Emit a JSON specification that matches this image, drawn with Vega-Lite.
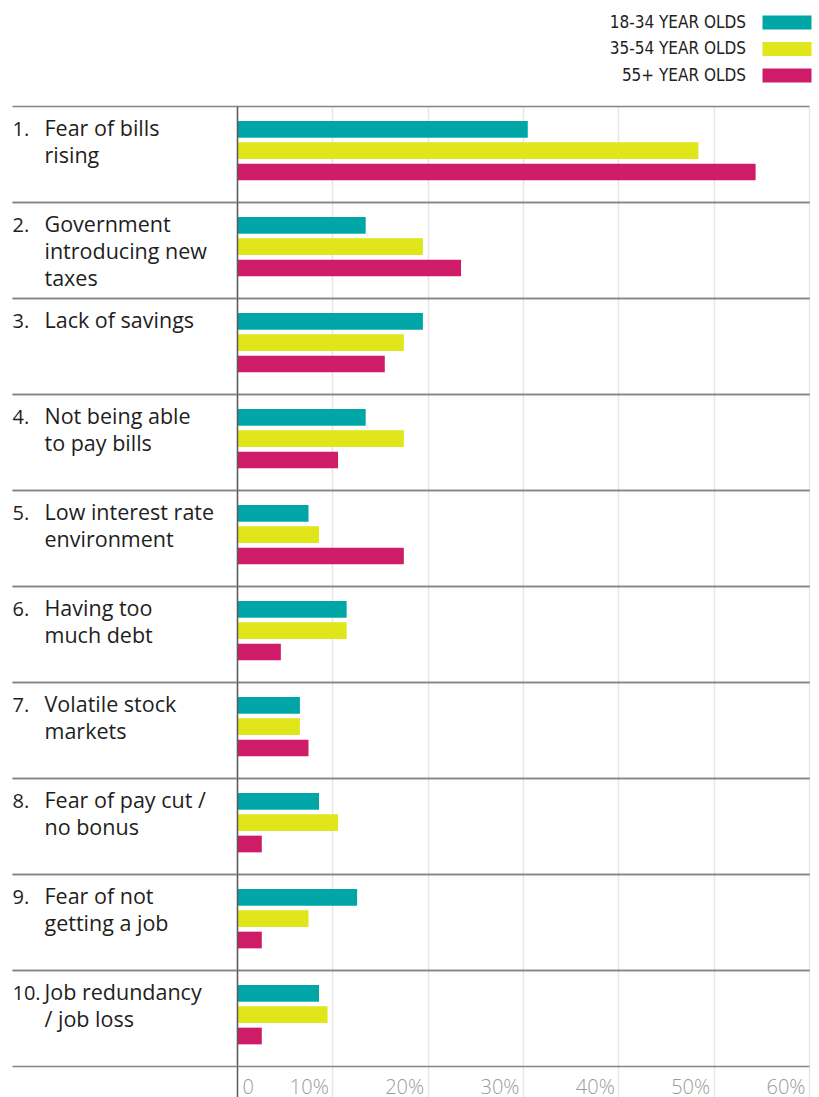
{
  "$schema": "https://vega.github.io/schema/vega-lite/v6.json",
  "width": 572,
  "height": 960,
  "autosize": {"type": "none"},
  "padding": {"left": 237, "top": 106, "right": 10, "bottom": 31},
  "background": "white",
  "config": {"view": {"stroke": null}, "font": "Open Sans"},
  "data": {"values": [
    {"item": "1.|Fear of bills|rising", "group": "18-34 YEAR OLDS", "value": 30.5},
    {"item": "1.|Fear of bills|rising", "group": "35-54 YEAR OLDS", "value": 48.4},
    {"item": "1.|Fear of bills|rising", "group": "55+ YEAR OLDS", "value": 54.4},
    {"item": "2.|Government|introducing new|taxes", "group": "18-34 YEAR OLDS", "value": 13.5},
    {"item": "2.|Government|introducing new|taxes", "group": "35-54 YEAR OLDS", "value": 19.5},
    {"item": "2.|Government|introducing new|taxes", "group": "55+ YEAR OLDS", "value": 23.5},
    {"item": "3.|Lack of savings", "group": "18-34 YEAR OLDS", "value": 19.5},
    {"item": "3.|Lack of savings", "group": "35-54 YEAR OLDS", "value": 17.5},
    {"item": "3.|Lack of savings", "group": "55+ YEAR OLDS", "value": 15.5},
    {"item": "4.|Not being able|to pay bills", "group": "18-34 YEAR OLDS", "value": 13.5},
    {"item": "4.|Not being able|to pay bills", "group": "35-54 YEAR OLDS", "value": 17.5},
    {"item": "4.|Not being able|to pay bills", "group": "55+ YEAR OLDS", "value": 10.6},
    {"item": "5.|Low interest rate|environment", "group": "18-34 YEAR OLDS", "value": 7.5},
    {"item": "5.|Low interest rate|environment", "group": "35-54 YEAR OLDS", "value": 8.6},
    {"item": "5.|Low interest rate|environment", "group": "55+ YEAR OLDS", "value": 17.5},
    {"item": "6.|Having too|much debt", "group": "18-34 YEAR OLDS", "value": 11.5},
    {"item": "6.|Having too|much debt", "group": "35-54 YEAR OLDS", "value": 11.5},
    {"item": "6.|Having too|much debt", "group": "55+ YEAR OLDS", "value": 4.6},
    {"item": "7.|Volatile stock|markets", "group": "18-34 YEAR OLDS", "value": 6.6},
    {"item": "7.|Volatile stock|markets", "group": "35-54 YEAR OLDS", "value": 6.6},
    {"item": "7.|Volatile stock|markets", "group": "55+ YEAR OLDS", "value": 7.5},
    {"item": "8.|Fear of pay cut /|no bonus", "group": "18-34 YEAR OLDS", "value": 8.6},
    {"item": "8.|Fear of pay cut /|no bonus", "group": "35-54 YEAR OLDS", "value": 10.6},
    {"item": "8.|Fear of pay cut /|no bonus", "group": "55+ YEAR OLDS", "value": 2.6},
    {"item": "9.|Fear of not|getting a job", "group": "18-34 YEAR OLDS", "value": 12.6},
    {"item": "9.|Fear of not|getting a job", "group": "35-54 YEAR OLDS", "value": 7.5},
    {"item": "9.|Fear of not|getting a job", "group": "55+ YEAR OLDS", "value": 2.6},
    {"item": "10.|Job redundancy|/ job loss", "group": "18-34 YEAR OLDS", "value": 8.6},
    {"item": "10.|Job redundancy|/ job loss", "group": "35-54 YEAR OLDS", "value": 9.5},
    {"item": "10.|Job redundancy|/ job loss", "group": "55+ YEAR OLDS", "value": 2.6}
  ]},
  "layer": [
    {
      "mark": {"type": "bar"},
      "encoding": {
        "y": {
          "field": "item", "type": "nominal", "sort": null,
          "scale": {"paddingInner": 0, "paddingOuter": 0},
          "axis": {
            "orient": "left", "title": null, "bandPosition": 0,
            "domain": true, "domainColor": "#5a5a5a", "domainWidth": 1.5,
            "ticks": true, "tickSize": 225, "tickColor": "#858585", "tickWidth": 1.5,
            "grid": true, "gridColor": "#858585", "gridWidth": 1.5,
            "labelExpr": "split(datum.value, '|')[0]",
            "labelAlign": "left", "labelBaseline": "alphabetic",
            "labelPadding": 0, "labelOffset": -18,
            "labelFont": "Open Sans", "labelFontSize": 20, "labelColor": "#1e1e1e",
            "labelLimit": 0, "labelOverlap": false, "zindex": 1
          }
        },
        "yOffset": {
          "field": "group", "type": "nominal", "sort": null,
          "scale": {"paddingInner": 0.216, "paddingOuter": 0.86, "align": 0.41}
        },
        "x": {
          "field": "value", "type": "quantitative", "stack": null,
          "scale": {"domain": [0, 60], "nice": false},
          "axis": {
            "title": null, "orient": "bottom", "values": [0, 10, 20, 30, 40, 50, 60],
            "domain": false, "grid": true, "gridColor": "#e6e6e6", "gridWidth": 1.5,
            "ticks": true, "tickSize": 31,
            "tickColor": {"condition": {"test": "datum.value == 0", "value": "#5a5a5a"}, "value": "#e6e6e6"},
            "tickWidth": 1.5,
            "labelExpr": "datum.value == 0 ? '0' : datum.value + '%'",
            "labelAlign": {"condition": {"test": "datum.value == 0", "value": "left"}, "value": "right"},
            "labelOffset": {"condition": {"test": "datum.value == 0", "value": 5}, "value": -4},
            "labelBaseline": "alphabetic", "labelPadding": -4,
            "labelFont": "Open Sans", "labelFontSize": 20, "labelFontWeight": 300, "labelColor": "#9a9a9a",
            "labelFlush": false, "labelOverlap": false, "labelBound": false, "zindex": 0
          }
        },
        "color": {
          "field": "group", "type": "nominal",
          "scale": {
            "domain": ["18-34 YEAR OLDS", "35-54 YEAR OLDS", "55+ YEAR OLDS"],
            "range": ["#00a6a6", "#e0e619", "#cf1c68"]
          },
          "legend": {
            "orient": "none", "legendX": 541.5, "legendY": -92, "title": null,
            "direction": "vertical", "padding": 0,
            "symbolType": "M-3.5,-1H3.5V1H-3.5Z", "symbolSize": 196,
            "symbolStrokeWidth": 0, "symbolOpacity": 1,
            "labelAlign": "right", "labelOffset": -49.5,
            "labelFont": "Liberation Sans Narrow, DejaVu Sans Condensed, sans-serif",
            "labelFontSize": 17, "labelColor": "#222222",
            "rowPadding": 8.5, "labelLimit": 0
          }
        }
      }
    },
    {
      "mark": {"type": "bar", "opacity": 0},
      "encoding": {
        "y": {
          "field": "item", "type": "nominal", "sort": null,
          "scale": {"paddingInner": 0, "paddingOuter": 0},
          "axis": {
            "orient": "left", "title": null, "bandPosition": 1,
            "domain": false,
            "ticks": true, "tickSize": 225, "tickColor": "#858585", "tickWidth": 1.5,
            "grid": true, "gridColor": "#858585", "gridWidth": 1.5,
            "labelExpr": "slice(split(datum.value, '|'), 1)",
            "labelAlign": "left", "labelBaseline": "alphabetic",
            "labelPadding": -32, "labelOffset": -18, "labelLineHeight": 27,
            "labelFont": "Open Sans", "labelFontSize": 21.5, "labelColor": "#1e1e1e",
            "labelLimit": 0, "labelOverlap": false, "zindex": 1
          }
        },
        "yOffset": {
          "field": "group", "type": "nominal", "sort": null,
          "scale": {"paddingInner": 0.216, "paddingOuter": 0.86, "align": 0.41}
        },
        "x": {
          "field": "value", "type": "quantitative", "stack": null,
          "scale": {"domain": [0, 60], "nice": false}
        }
      }
    }
  ],
  "resolve": {"axis": {"y": "independent"}}
}
